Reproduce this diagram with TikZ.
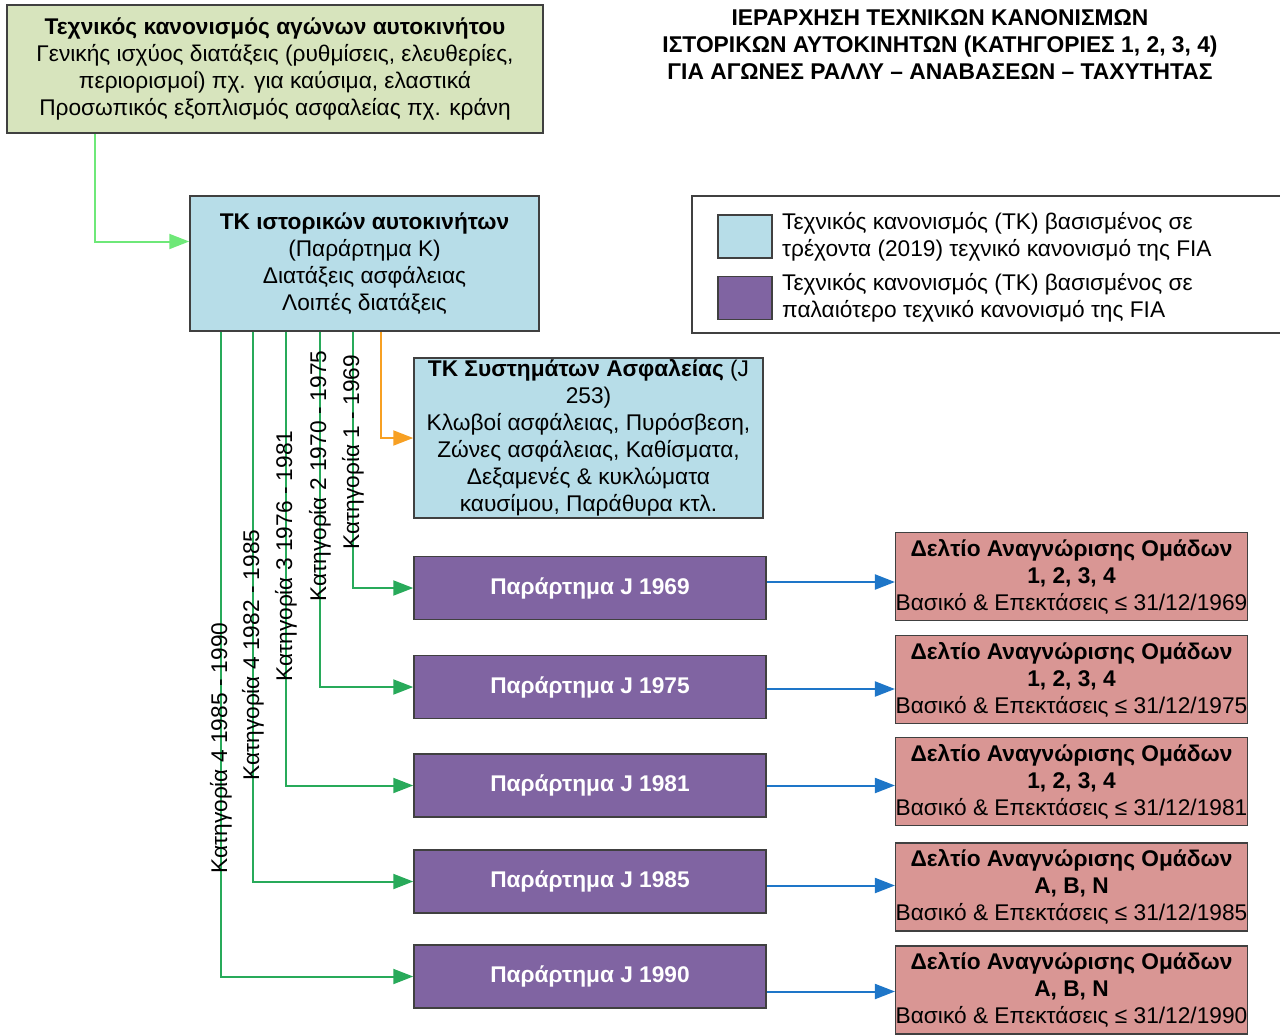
\documentclass[tikz,border=0pt]{standalone}
\usepackage{fontspec}
\setmainfont{Liberation Sans}
\usetikzlibrary{arrows.meta}

\definecolor{genfill}{RGB}{215,228,189}
\definecolor{tkfill}{RGB}{183,221,232}
\definecolor{jfill}{RGB}{128,100,162}
\definecolor{dfill}{RGB}{217,150,148}
\definecolor{edgegray}{RGB}{64,64,64}
\definecolor{catgreen}{RGB}{40,170,90}
\definecolor{topgreen}{RGB}{110,232,120}
\definecolor{safeorange}{RGB}{247,160,35}
\definecolor{linkblue}{RGB}{30,118,200}

\tikzset{
  box/.style={draw=edgegray,line width=1.5pt,align=center,inner sep=0pt,
    font=\fontsize{22.7}{27}\selectfont},
  genbox/.style={box,fill=genfill,minimum width=536pt,minimum height=128pt},
  tkbox/.style={box,fill=tkfill,minimum width=349pt},
  jbox/.style={box,fill=jfill,text=white,font=\fontsize{22.7}{27}\selectfont\bfseries,
    minimum width=352pt,minimum height=63pt},
  dbox/.style={box,fill=dfill,minimum width=351pt,minimum height=88pt},
  swatch/.style={draw=edgegray,line width=1.5pt,minimum width=54pt,minimum height=43pt,inner sep=0pt},
  legtext/.style={anchor=west,align=left,inner sep=0pt,font=\fontsize{22.7}{27}\selectfont},
  catlabel/.style={rotate=90,inner sep=0pt,font=\fontsize{22.7}{27}\selectfont},
  tip/.style={-{Triangle[length=20pt,width=15pt]},line width=2pt},
  catline/.style={tip,draw=catgreen},
}

\begin{document}
\begin{tikzpicture}[x=1pt,y=-1pt]
\useasboundingbox (0,0) rectangle (1280,1034);

% title
\node[align=center,inner sep=0pt,font=\fontsize{22.8}{27}\selectfont\bfseries] (title) at (940,45)
  {ΙΕΡΑΡΧΗΣΗ ΤΕΧΝΙΚΩΝ ΚΑΝΟΝΙΣΜΩΝ\\ΙΣΤΟΡΙΚΩΝ ΑΥΤΟΚΙΝΗΤΩΝ (ΚΑΤΗΓΟΡΙΕΣ 1, 2, 3, 4)\\ΓΙΑ ΑΓΩΝΕΣ ΡΑΛΛΥ – ΑΝΑΒΑΣΕΩΝ – ΤΑΧΥΤΗΤΑΣ};

\node[genbox] (gen) at (275,69)
  {\textbf{Τεχνικός κανονισμός αγώνων αυτοκινήτου}\\Γενικής ισχύος διατάξεις (ρυθμίσεις, ελευθερίες,\\περιορισμοί) πχ. για καύσιμα, ελαστικά\\Προσωπικός εξοπλισμός ασφαλείας πχ. κράνη};

\node[tkbox,minimum height=135pt] (tk) at (364.5,263.5)
  {\textbf{ΤΚ ιστορικών αυτοκινήτων}\\(Παράρτημα Κ)\\Διατάξεις ασφάλειας\\Λοιπές διατάξεις};

\node[tkbox,minimum height=160pt] (j253) at (588.5,438)
  {\textbf{ΤΚ Συστημάτων Ασφαλείας} (J\\253)\\Κλωβοί ασφάλειας, Πυρόσβεση,\\Ζώνες ασφάλειας, Καθίσματα,\\Δεξαμενές \& κυκλώματα\\καυσίμου, Παράθυρα κτλ.};

% legend
\draw[edgegray,line width=1.5pt] (692,196) rectangle (1284,333);
\node[swatch,fill=tkfill] (lg1) at (745,236.5) {};
\node[swatch,fill=jfill] (lg2) at (745,298) {};
\node[legtext] (lt1) at (782,236.5) {Τεχνικός κανονισμός (ΤΚ) βασισμένος σε\\τρέχοντα (2019) τεχνικό κανονισμό της FIA};
\node[legtext] (lt2) at (782,298) {Τεχνικός κανονισμός (ΤΚ) βασισμένος σε\\παλαιότερο τεχνικό κανονισμό της FIA};

% annexes J
\node[jbox] (j69) at (590,588) {Παράρτημα J 1969};
\node[jbox] (j75) at (590,687) {Παράρτημα J 1975};
\node[jbox] (j81) at (590,785.5) {Παράρτημα J 1981};
\node[jbox] (j85) at (590,881.5) {Παράρτημα J 1985};
\node[jbox] (j90) at (590,976.5) {Παράρτημα J 1990};

% homologation forms
\node[dbox] (d69) at (1071.5,576.5) {\textbf{Δελτίο Αναγνώρισης Ομάδων}\\\textbf{1, 2, 3, 4}\\Βασικό \& Επεκτάσεις ≤ 31/12/1969};
\node[dbox] (d75) at (1071.5,679.5) {\textbf{Δελτίο Αναγνώρισης Ομάδων}\\\textbf{1, 2, 3, 4}\\Βασικό \& Επεκτάσεις ≤ 31/12/1975};
\node[dbox] (d81) at (1071.5,781.5) {\textbf{Δελτίο Αναγνώρισης Ομάδων}\\\textbf{1, 2, 3, 4}\\Βασικό \& Επεκτάσεις ≤ 31/12/1981};
\node[dbox] (d85) at (1071.5,887) {\textbf{Δελτίο Αναγνώρισης Ομάδων}\\\textbf{A, B, N}\\Βασικό \& Επεκτάσεις ≤ 31/12/1985};
\node[dbox] (d90) at (1071.5,990) {\textbf{Δελτίο Αναγνώρισης Ομάδων}\\\textbf{A, B, N}\\Βασικό \& Επεκτάσεις ≤ 31/12/1990};

% connectors
\draw[tip,draw=topgreen] ([xshift=-180pt]gen.south) |- ([yshift=22pt]tk.west);
\draw[tip,draw=safeorange] ([xshift=16.5pt]tk.south) |- (j253.west);

\draw[catline] ([xshift=-11.5pt]tk.south) |- (j69.west);
\draw[catline] ([xshift=-44.5pt]tk.south) |- (j75.west);
\draw[catline] ([xshift=-78.5pt]tk.south) |- (j81.west);
\draw[catline] ([xshift=-111.5pt]tk.south) |- (j85.west);
\draw[catline] ([xshift=-143.5pt]tk.south) |- (j90.west);

\node[catlabel] (c1) at (353,452) {Κατηγορία 1 - 1969};
\node[catlabel] (c2) at (320,476) {Κατηγορία 2 1970 - 1975};
\node[catlabel] (c3) at (286,556) {Κατηγορία 3 1976 - 1981};
\node[catlabel] (c4) at (253,655) {Κατηγορία 4 1982 - 1985};
\node[catlabel] (c5) at (221,748) {Κατηγορία 4 1985 - 1990};

\draw[tip,draw=linkblue] ([yshift=6pt]j69.east) -- ([yshift=6pt]j69.east -| d69.west);
\draw[tip,draw=linkblue] ([yshift=-2pt]j75.east) -- ([yshift=-2pt]j75.east -| d75.west);
\draw[tip,draw=linkblue] (j81.east) -- (j81.east -| d81.west);
\draw[tip,draw=linkblue] ([yshift=-4pt]j85.east) -- ([yshift=-4pt]j85.east -| d85.west);
\draw[tip,draw=linkblue] ([yshift=-15pt]j90.east) -- ([yshift=-15pt]j90.east -| d90.west);
\end{tikzpicture}
\end{document}
